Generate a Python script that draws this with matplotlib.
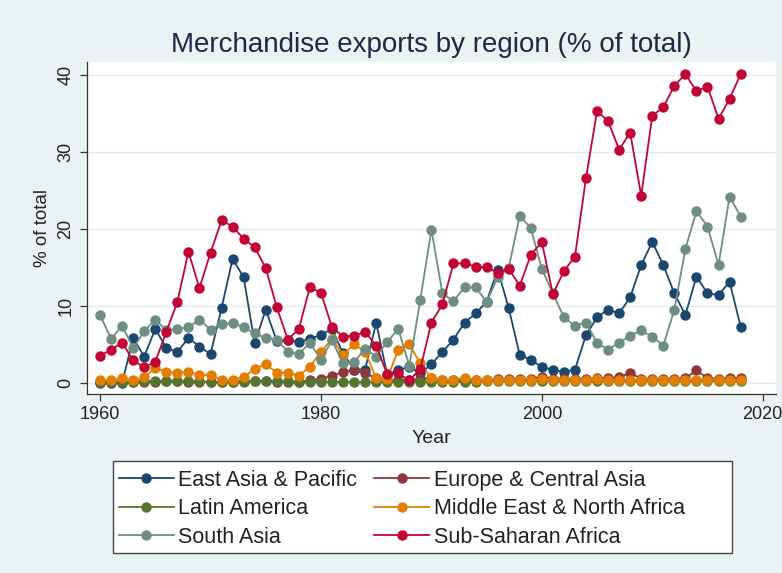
import matplotlib
matplotlib.use("Agg")
import matplotlib.pyplot as plt
from matplotlib.patches import Rectangle

years = list(range(1960, 2019))

east_asia_pacific = [
    0.0, 0.0, 0.0, 5.8, 3.4, 7.0, 4.5, 4.0, 5.8, 4.7,
    3.7, 9.7, 16.1, 13.7, 5.1, 9.5, 5.4, 5.5, 5.3, 5.7,
    6.2, 7.0, 3.8, 1.7, 1.7, 7.8, 1.0, 1.7, 2.0, 1.2,
    2.4, 4.0, 5.6, 7.8, 9.0, 10.5, 14.7, 9.7, 3.6, 3.0,
    2.0, 1.7, 1.4, 1.7, 6.2, 8.5, 9.5, 9.0, 11.1, 15.3,
    18.3, 15.3, 11.6, 8.8, 13.8, 11.6, 11.4, 13.1, 7.3,
]
europe_central_asia = [
    0.1, 0.1, 0.1, 0.1, 0.1, 0.1, 0.2, 0.2, 0.1, 0.1,
    0.1, 0.1, 0.1, 0.2, 0.2, 0.2, 0.1, 0.1, 0.1, 0.3,
    0.5, 0.9, 1.4, 1.6, 1.2, 0.6, 0.3, 0.4, 0.3, 0.5,
    0.6, 0.3, 0.3, 0.4, 0.4, 0.4, 0.5, 0.5, 0.5, 0.5,
    0.8, 0.5, 0.5, 0.5, 0.5, 0.6, 0.6, 0.7, 1.3, 0.5,
    0.5, 0.5, 0.5, 0.6, 1.6, 0.6, 0.5, 0.6, 0.6,
]
latin_america = [
    0.1, 0.1, 0.1, 0.1, 0.2, 0.2, 0.2, 0.2, 0.2, 0.2,
    0.1, 0.1, 0.1, 0.1, 0.2, 0.2, 0.2, 0.2, 0.1, 0.1,
    0.1, 0.1, 0.1, 0.1, 0.1, 0.1, 0.1, 0.1, 0.1, 0.1,
    0.1, 0.1, 0.1, 0.1, 0.1, 0.2, 0.2, 0.2, 0.2, 0.2,
    0.2, 0.2, 0.2, 0.2, 0.2, 0.2, 0.2, 0.2, 0.2, 0.2,
    0.2, 0.2, 0.2, 0.2, 0.2, 0.2, 0.2, 0.2, 0.2,
]
middle_east_north_africa = [
    0.3, 0.3, 0.6, 0.3, 0.7, 1.9, 1.4, 1.3, 1.4, 1.0,
    1.0, 0.4, 0.4, 0.7, 1.8, 2.4, 1.3, 1.3, 0.9, 2.1,
    4.0, 5.7, 3.6, 5.0, 4.0, 0.6, 0.5, 4.3, 5.0, 2.5,
    0.6, 0.4, 0.4, 0.6, 0.4, 0.4, 0.4, 0.4, 0.4, 0.4,
    0.5, 0.4, 0.4, 0.4, 0.4, 0.5, 0.4, 0.4, 0.4, 0.4,
    0.4, 0.4, 0.4, 0.4, 0.4, 0.4, 0.4, 0.4, 0.4,
]
south_asia = [
    8.8, 5.7, 7.4, 4.5, 6.7, 8.2, 6.8, 7.0, 7.2, 8.2,
    6.9, 7.6, 7.8, 7.2, 6.4, 5.8, 5.6, 4.0, 3.7, 5.2,
    3.0, 5.5, 2.5, 2.7, 4.4, 3.4, 5.3, 7.0, 2.2, 10.8,
    19.9, 11.6, 10.6, 12.4, 12.4, 10.5, 13.7, 14.9, 21.7, 20.1,
    14.8, 11.6, 8.5, 7.4, 7.8, 5.2, 4.3, 5.2, 6.1, 6.8,
    6.0, 4.8, 9.5, 17.4, 22.3, 20.3, 15.3, 24.2, 21.6,
]
sub_saharan_africa = [
    3.5, 4.3, 5.2, 2.9, 2.0, 2.7, 6.6, 10.5, 17.0, 12.3,
    16.9, 21.1, 20.3, 18.7, 17.6, 14.9, 9.8, 5.6, 7.0, 12.4,
    11.7, 7.2, 6.0, 6.1, 6.6, 4.8, 1.1, 1.2, 0.3, 1.8,
    7.8, 10.2, 15.5, 15.5, 15.1, 15.0, 14.3, 14.8, 12.6, 16.6,
    18.3, 11.5, 14.5, 16.4, 26.6, 35.3, 34.0, 30.3, 32.5, 24.3,
    34.7, 35.8, 38.6, 40.1, 37.9, 38.5, 34.3, 36.9, 40.1,
]

series_names = [
    "East Asia & Pacific", "Europe & Central Asia", "Latin America",
    "Middle East & North Africa", "South Asia", "Sub-Saharan Africa",
]
series_values = [
    east_asia_pacific, europe_central_asia, latin_america,
    middle_east_north_africa, south_asia, sub_saharan_africa,
]
series_colors = ["#1a476f", "#90353b", "#55752f", "#e37e00", "#6e8e84", "#c10534"]

x_ticks = [1960, 1980, 2000, 2020]
y_ticks = [0, 10, 20, 30, 40]

bg = "#eaf2f3"
text_color = "#222222"
plt.rcParams["font.family"] = ["Liberation Sans", "DejaVu Sans"]

W, H = 782, 573
fig = plt.figure(figsize=(W / 100, H / 100), dpi=100, facecolor=bg)
ax = fig.add_axes([0.1113, 0.3124, 0.8807, 0.5796])
ax.set_facecolor("white")

handles = {}
for name, vals, col in zip(series_names, series_values, series_colors):
    (h,) = ax.plot(years, vals, color=col, lw=1.3, marker="o", ms=7.5,
                   markeredgewidth=0, zorder=3)
    handles[name] = h

ax.set_xlim(1958.82, 2021.18)
ax.set_ylim(-1.47, 41.7)
ax.set_xticks(x_ticks)
ax.set_yticks(y_ticks)
ax.set_xticklabels([str(t) for t in x_ticks], fontsize=13, color=text_color)
ax.set_yticklabels([str(t) for t in y_ticks], fontsize=13, color=text_color,
                   rotation=90, va="center")
ax.grid(axis="y", color="#e3eaec", lw=1.0, zorder=0)
ax.tick_params(axis="both", direction="out", length=5, width=0.9,
               color="#333333", pad=4)

for side in ["top", "right"]:
    ax.spines[side].set_visible(False)
for side in ["left", "bottom"]:
    ax.spines[side].set_color("#333333")
    ax.spines[side].set_linewidth(0.9)

ax.set_xlabel("Year", fontsize=14, color=text_color, labelpad=5)
ax.set_ylabel("% of total", fontsize=13.5, color=text_color, labelpad=5)
ax.set_title("Merchandise exports by region (% of total)", fontsize=20,
             color="#1e2a44", pad=7)

# legend box drawn as a separate frame, entries placed inside it
frame = Rectangle((113 / W, 1 - 553 / H), 619 / W, 92 / H,
                  transform=fig.transFigure, facecolor="white",
                  edgecolor="#444444", linewidth=1.0, zorder=1)
fig.patches.append(frame)

order = ["East Asia & Pacific", "Latin America", "South Asia",
         "Europe & Central Asia", "Middle East & North Africa", "Sub-Saharan Africa"]
leg = fig.legend([handles[n] for n in order], order, ncol=2,
                 loc="upper left", bbox_to_anchor=(119 / W, 1 - 470 / H),
                 fontsize=15.5, frameon=False,
                 handlelength=2.55, handletextpad=0.2, columnspacing=0.8,
                 labelspacing=0.34, borderpad=0, borderaxespad=0)
leg.set_zorder(2)
for t in leg.get_texts():
    t.set_color(text_color)

fig.savefig("out.png", dpi=100, facecolor=bg)
